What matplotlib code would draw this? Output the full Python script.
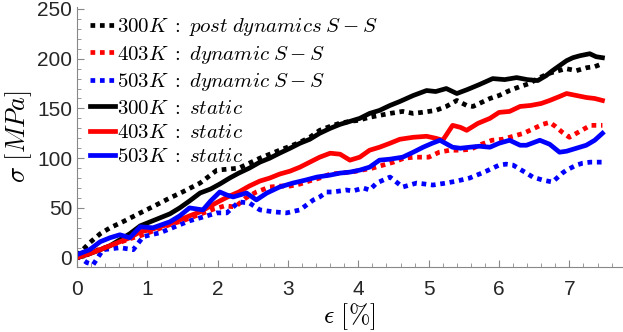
import matplotlib
matplotlib.use("Agg")
import matplotlib.pyplot as plt
from matplotlib.ticker import MultipleLocator

plt.rcParams['mathtext.fontset'] = 'cm'
plt.rcParams['font.family'] = ['Liberation Sans', 'DejaVu Sans']

# 300K static
e_300s = [0, 0.18, 0.33, 0.47, 0.61, 0.75, 0.9, 1.04, 1.18, 1.32, 1.46, 1.6, 1.75, 1.9,
          2.03, 2.17, 2.3, 2.45, 2.6, 2.74, 2.88, 3.03, 3.17, 3.31, 3.45, 3.6, 3.74, 3.88,
          4.02, 4.16, 4.3, 4.45, 4.59, 4.78, 4.97, 5.1, 5.25, 5.4, 5.55, 5.72, 5.91, 6.08,
          6.25, 6.4, 6.55, 6.67, 6.76, 6.86, 6.96, 7.05, 7.15, 7.29, 7.38, 7.47]
s_300s = [0, 4, 8, 12, 18, 24, 32, 36, 40, 44, 50, 57, 65, 69,
          74, 80, 85, 90, 96, 100, 105, 110, 115, 119, 125, 130, 134, 137,
          140, 145, 148, 153, 157, 163, 168, 167, 170, 165, 169, 174, 180, 179,
          181, 179, 178, 183, 188, 193, 198, 201, 203, 205, 202, 201]

# 300K post dynamics S-S
e_300d = [0, 0.18, 0.33, 0.47, 0.65, 0.9, 1.1, 1.32, 1.5, 1.75, 1.99, 2.15, 2.3, 2.45,
          2.6, 2.74, 2.88, 3.03, 3.17, 3.31, 3.45, 3.6, 3.73, 3.88, 4.0, 4.15, 4.3, 4.45,
          4.63, 4.78, 4.9, 5.1, 5.25, 5.4, 5.54, 5.63, 5.75, 5.87, 6.0, 6.15, 6.3, 6.43,
          6.55, 6.7, 6.85, 6.95, 7.1, 7.25, 7.36, 7.47]
s_300d = [2, 15, 24, 30, 36, 45, 52, 60, 66, 75, 88, 89, 90, 95,
          100, 104, 108, 112, 116, 121, 128, 132, 135, 137, 138, 141, 143, 145,
          147, 145, 146, 148, 152, 158, 153, 152, 156, 160, 163, 168, 172, 175,
          180, 185, 188, 190, 188, 191, 192, 195]

# 403K static
e_403s = [0, 0.18, 0.33, 0.47, 0.61, 0.75, 0.9, 1.04, 1.18, 1.32, 1.46, 1.6, 1.75, 1.9,
          2.03, 2.17, 2.3, 2.45, 2.6, 2.74, 2.88, 3.03, 3.17, 3.31, 3.45, 3.6, 3.74, 3.88,
          4.02, 4.16, 4.3, 4.45, 4.59, 4.78, 4.97, 5.1, 5.2, 5.34, 5.45, 5.54, 5.7, 5.87,
          6.0, 6.15, 6.3, 6.45, 6.6, 6.72, 6.86, 6.96, 7.1, 7.24, 7.36, 7.47]
s_403s = [0, 4, 8, 12, 16, 20, 26, 28, 31, 34, 38, 42, 46, 52,
          57, 62, 66, 72, 77, 80, 84, 87, 91, 96, 101, 105, 104, 98,
          101, 108, 111, 115, 119, 121, 122, 120, 118, 133, 131, 128, 135, 140,
          146, 147, 152, 153, 155, 158, 162, 165, 163, 161, 160, 158]

# 403K dynamic S-S
e_403d = [0, 0.15, 0.3, 0.45, 0.6, 0.75, 0.9, 1.05, 1.2, 1.35, 1.5, 1.65, 1.8, 1.95,
          2.1, 2.25, 2.4, 2.55, 2.74, 2.9, 3.03, 3.17, 3.3, 3.45, 3.6, 3.75, 3.9, 4.05,
          4.2, 4.35, 4.5, 4.65, 4.8, 5.0, 5.15, 5.3, 5.45, 5.6, 5.75, 5.9, 6.05, 6.2,
          6.35, 6.5, 6.62, 6.72, 6.8, 6.9, 7.0, 7.1, 7.2, 7.3, 7.47]
s_403d = [0, 3, 8, 11, 15, 19, 22, 26, 30, 34, 37, 41, 45, 49,
          52, 51, 60, 66, 71, 72, 72, 74, 77, 80, 84, 85, 86, 88,
          90, 93, 96, 100, 101, 101, 106, 108, 108, 109, 114, 118, 119, 122,
          125, 130, 134, 136, 132, 126, 121, 125, 129, 133, 133]

# 503K static
e_503s = [0, 0.18, 0.33, 0.47, 0.61, 0.75, 0.9, 1.08, 1.2, 1.32, 1.46, 1.6, 1.79, 1.9,
          2.03, 2.13, 2.22, 2.41, 2.55, 2.7, 2.88, 3.07, 3.25, 3.41, 3.6, 3.74, 3.88, 4.02,
          4.16, 4.3, 4.45, 4.63, 4.78, 4.92, 5.05, 5.16, 5.34, 5.45, 5.58, 5.72, 5.87, 6.0,
          6.15, 6.3, 6.39, 6.58, 6.72, 6.86, 6.96, 7.1, 7.24, 7.36, 7.47]
s_503s = [3, 8, 16, 20, 23, 20, 31, 30, 33, 36, 42, 50, 48, 57,
          66, 63, 61, 65, 58, 65, 71, 75, 78, 81, 83, 85, 86, 88,
          91, 98, 99, 101, 106, 111, 115, 118, 111, 110, 111, 112, 111, 115,
          118, 113, 113, 118, 114, 106, 107, 110, 113, 118, 125]

# 503K dynamic S-S
e_503d = [0, 0.14, 0.23, 0.37, 0.5, 0.61, 0.8, 0.94, 1.05, 1.18, 1.32, 1.46, 1.6, 1.75,
          1.99, 2.13, 2.3, 2.45, 2.6, 2.8, 2.98, 3.17, 3.36, 3.45, 3.55, 3.64, 3.83, 3.92,
          4.07, 4.16, 4.26, 4.45, 4.63, 4.83, 5.06, 5.25, 5.4, 5.58, 5.72, 5.82, 6.0, 6.1,
          6.2, 6.39, 6.48, 6.62, 6.76, 6.9, 6.96, 7.1, 7.19, 7.3, 7.47]
s_503d = [2, -5, -7, 8, 9, 10, 8, 21, 23, 25, 29, 33, 37, 40,
          45, 45, 56, 55, 48, 46, 45, 48, 58, 61, 66, 66, 68, 67,
          70, 68, 75, 81, 71, 75, 73, 75, 77, 80, 84, 87, 93, 94,
          93, 85, 81, 78, 76, 85, 88, 93, 95, 96, 96]

labels = [r"$300K\;:\;post\;dynamics\;S-S$",
          r"$403K\;:\;dynamic\;S-S$",
          r"$503K\;:\;dynamic\;S-S$",
          r"$300K\;:\;static$",
          r"$403K\;:\;static$",
          r"$503K\;:\;static$"]

fig = plt.figure(figsize=(6.23, 3.32), dpi=100)
ax = fig.add_axes([0.1236, 0.197, 0.875, 0.782])

dot = (0, (1, 1))
ax.plot(e_300d, s_300d, color='k', lw=3.4, ls=dot, label=labels[0])
ax.plot(e_403d, s_403d, color='r', lw=3.4, ls=dot, label=labels[1])
ax.plot(e_503d, s_503d, color='b', lw=3.4, ls=dot, label=labels[2])
ax.plot(e_300s, s_300s, color='k', lw=3.4, label=labels[3])
ax.plot(e_403s, s_403s, color='r', lw=3.4, label=labels[4])
ax.plot(e_503s, s_503s, color='b', lw=3.4, label=labels[5])

ax.set_xlim(0, 7.75)
ax.set_ylim(-9, 252)
ax.xaxis.set_major_locator(MultipleLocator(1))
ax.xaxis.set_minor_locator(MultipleLocator(0.2))
ax.yaxis.set_major_locator(MultipleLocator(50))
ax.yaxis.set_minor_locator(MultipleLocator(10))

for s in ['top', 'right']:
    ax.spines[s].set_visible(False)
for s in ['left', 'bottom']:
    ax.spines[s].set_color('#888888')
ax.tick_params(which='both', direction='in', colors='#888888', labelcolor='#262626',
               labelsize=15)
ax.tick_params(which='major', length=5)
ax.tick_params(which='minor', length=3)
ax.tick_params(axis='x', pad=10)

ax.set_xlabel(r"$\epsilon\ [\%]$", fontsize=18.5, labelpad=1)
ax.set_ylabel(r"$\sigma\ [MPa]$", fontsize=19, labelpad=2)

ax.legend(loc='upper left', bbox_to_anchor=(0.0, 1.012), frameon=False, fontsize=15,
          handlelength=1.2, handletextpad=0.1, labelspacing=0.26, borderaxespad=0.2)

fig.savefig("out.png", dpi=100)
